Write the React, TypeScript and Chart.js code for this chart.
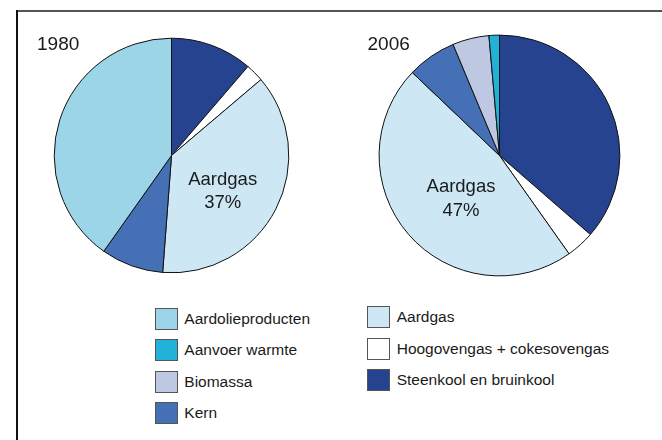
import React, { useEffect, useRef } from "react";
import { Chart, registerables } from "chart.js";

Chart.register(...registerables);

// ---- data ----
const categories = [
  "Steenkool en bruinkool",
  "Hoogovengas + cokesovengas",
  "Aardgas",
  "Kern",
  "Aardolieproducten",
  "Biomassa",
  "Aanvoer warmte",
];
const values1980 = [11.3, 2.5, 37.4, 8.6, 40.2, 0, 0];
const values2006 = [36.4, 3.8, 46.9, 6.6, 0, 4.9, 1.4];
const colors = ["#26438f", "#ffffff", "#cde8f4", "#4570b5", "#9dd5e8", "#bfc8e3", "#22b1d8"];
const legendCol1 = ["Aardolieproducten", "Aanvoer warmte", "Biomassa", "Kern"];
const legendCol2 = ["Aardgas", "Hoogovengas + cokesovengas", "Steenkool en bruinkool"];
const pieTitles = ["1980", "2006"];
const pieLabels = [
  ["Aardgas", "37%"],
  ["Aardgas", "47%"],
];

const FONT = "'Liberation Sans', Arial, Helvetica, sans-serif";

function Pie({ values, cx, cy, r }: { values: number[]; cx: number; cy: number; r: number }) {
  const ref = useRef<HTMLCanvasElement | null>(null);
  const size = Math.ceil(r * 2 + 10);
  useEffect(() => {
    if (!ref.current) return;
    const chart = new Chart(ref.current, {
      type: "pie",
      data: {
        labels: categories,
        datasets: [
          {
            data: values,
            backgroundColor: colors,
            borderColor: "#111111",
            borderWidth: 1,
            hoverOffset: 0,
          },
        ],
      },
      options: {
        animation: false,
        responsive: false,
        radius: r,
        layout: { padding: 0 },
        plugins: { legend: { display: false }, tooltip: { enabled: false } },
        events: [],
      } as any,
    });
    return () => chart.destroy();
  }, []);
  return (
    <canvas
      ref={ref}
      width={size}
      height={size}
      style={{ position: "absolute", left: cx - size / 2, top: cy - size / 2, width: size, height: size }}
    />
  );
}

function LegendItem({ label, x, y, textX }: { label: string; x: number; y: number; textX: number }) {
  const color = colors[categories.indexOf(label)];
  return (
    <>
      <div
        style={{
          position: "absolute",
          left: x,
          top: y - 11,
          width: 21,
          height: 20,
          background: color,
          border: "1px solid #555",
        }}
      />
      <div
        style={{
          position: "absolute",
          left: textX,
          top: y - 8,
          fontSize: 15.5,
          lineHeight: "16px",
          fontFamily: FONT,
          color: "#1a1a1a",
          whiteSpace: "nowrap",
        }}
      >
        {label}
      </div>
    </>
  );
}

export default function App() {
  const col1Y = [319, 350.3, 381.7, 413.3];
  const col2Y = [316.7, 349, 380];
  return (
    <div
      style={{
        position: "absolute",
        left: 0,
        top: 0,
        width: 662,
        height: 440,
        background: "#ffffff",
        overflow: "hidden",
      }}
    >
      <div style={{ position: "absolute", left: 16, top: 10, width: 646, height: 1.5, background: "#555" }} />
      <div style={{ position: "absolute", left: 16, top: 10, width: 1.5, height: 430, background: "#111" }} />
      <Pie values={values1980} cx={171.5} cy={155.5} r={117.3} />
      <Pie values={values2006} cx={499.2} cy={155.6} r={120.4} />
      {[
        { x: 37, y: 43 },
        { x: 367.5, y: 43 },
      ].map((p, i) => (
        <div
          key={i}
          style={{
            position: "absolute",
            left: p.x,
            top: p.y - 9.5,
            fontSize: 19,
            lineHeight: "19px",
            fontFamily: FONT,
            color: "#1a1a1a",
          }}
        >
          {pieTitles[i]}
        </div>
      ))}
      {[
        { x: 222.7, y: 175.7 },
        { x: 461, y: 183.3 },
      ].map((p, i) => (
        <div
          key={"l" + i}
          style={{
            position: "absolute",
            left: p.x - 60,
            width: 120,
            top: p.y - 9,
            fontSize: 18.5,
            lineHeight: "23.4px",
            fontFamily: FONT,
            color: "#1a1a1a",
            textAlign: "center",
          }}
        >
          {pieLabels[i][0]}
          <br />
          {pieLabels[i][1]}
        </div>
      ))}
      {legendCol1.map((l, i) => (
        <LegendItem key={l} label={l} x={155} y={col1Y[i]} textX={184.3} />
      ))}
      {legendCol2.map((l, i) => (
        <LegendItem key={l} label={l} x={367.3} y={col2Y[i]} textX={396.7} />
      ))}
    </div>
  );
}
